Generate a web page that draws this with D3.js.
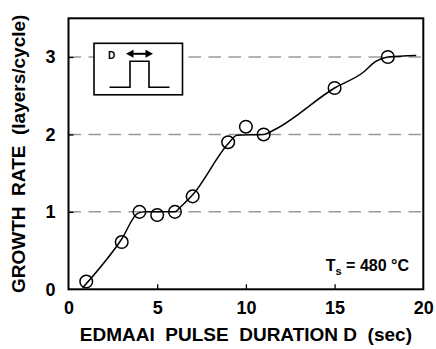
<!DOCTYPE html>
<html>
<head>
<meta charset="utf-8">
<script src="https://cdn.jsdelivr.net/npm/d3@7"></script>
<style>
  html, body { margin: 0; padding: 0; background: #fff; }
  svg { display: block; font-family: "Liberation Sans", Arial, sans-serif; }
  text { white-space: pre; }
</style>
</head>
<body>
<svg id="chart" width="436" height="349"></svg>
<script>
// ---- data ----
const pulseDuration = [1, 3, 4, 5, 6, 7, 9, 10, 11, 15, 18];
const growthRate    = [0.1, 0.61, 1.0, 0.96, 1.0, 1.2, 1.9, 2.1, 2.0, 2.6, 3.0];
const fitX = [0.8, 3.0, 3.9, 4.3, 6.0, 6.3, 7.0, 9.0, 9.5, 11.0, 11.6, 15.0, 16.6, 17.3, 18.0, 19.6];
const fitY = [0.02, 0.65, 0.98, 1.0, 1.0, 1.06, 1.22, 1.88, 1.99, 2.0, 2.06, 2.6, 2.8, 2.94, 3.0, 3.02];
const xTicks = [0, 5, 10, 15, 20];
const yTicks = [0, 1, 2, 3];
const gridLevels = [1, 2, 3];
const xTitle = "EDMAAI  PULSE  DURATION D  (sec)";
const yTitle = "GROWTH  RATE  (layers/cycle)";

// ---- layout ----
const svg = d3.select("#chart");
const L = 68.5, R = 423.3, T = 18.3, B = 289.3;
const x = d3.scaleLinear().domain([0, 20]).range([L, R]);
const y = d3.scaleLinear().domain([0, 3.5]).range([B, T]);

// grid lines (dashed)
svg.append("g").selectAll("line").data(gridLevels).join("line")
  .attr("x1", L).attr("x2", R)
  .attr("y1", d => y(d)).attr("y2", d => y(d))
  .attr("stroke", "#9a9a9a").attr("stroke-width", 1.5)
  .attr("stroke-dasharray", "12.5,7.5");

// axes (ticks inward)
const xAxis = d3.axisBottom(x).tickValues(xTicks).tickSize(-5).tickPadding(12).tickFormat(d3.format("d"));
const yAxis = d3.axisLeft(y).tickValues(yTicks).tickSize(-5).tickPadding(13).tickFormat(d3.format("d"));
const gx = svg.append("g").attr("transform", `translate(0,${B})`).call(xAxis);
const gy = svg.append("g").attr("transform", `translate(${L},0)`).call(yAxis);
[gx, gy].forEach(g => {
  g.select(".domain").remove();
  g.selectAll(".tick line").attr("stroke", "#000").attr("stroke-width", 1.3);
  g.selectAll(".tick text").attr("fill", "#000")
    .style("font-size", "18px").style("font-weight", "bold")
    .style("font-family", "'Liberation Sans', Arial, sans-serif");
});
gx.selectAll(".tick").filter(d => d === 0 || d === 20).select("line").remove();
gy.selectAll(".tick").filter(d => d === 0).select("line").remove();

// frame
svg.append("rect").attr("x", L).attr("y", T).attr("width", R - L).attr("height", B - T)
  .attr("fill", "none").attr("stroke", "#000").attr("stroke-width", 2);

// fitted curve
const fit = fitX.map((v, i) => [v, fitY[i]]);
svg.append("path").datum(fit)
  .attr("d", d3.line().x(d => x(d[0])).y(d => y(d[1])).curve(d3.curveMonotoneX))
  .attr("fill", "none").attr("stroke", "#000").attr("stroke-width", 1.5);

// data points
svg.append("g").selectAll("circle").data(pulseDuration.map((v, i) => [v, growthRate[i]])).join("circle")
  .attr("cx", d => x(d[0])).attr("cy", d => y(d[1])).attr("r", 6.3)
  .attr("fill", "none").attr("stroke", "#000").attr("stroke-width", 1.5);

// inset (pulse schematic)
const inset = svg.append("g").attr("transform", `translate(${L + 25.5},${T + 25})`);
inset.append("rect").attr("x", 0).attr("y", 0).attr("width", 88.5).attr("height", 51.5)
  .attr("fill", "#fff").attr("stroke", "#000").attr("stroke-width", 1.6);
inset.append("path")
  .attr("d", "M15.5,44 H36 V18 H55 V44 H75.5")
  .attr("fill", "none").attr("stroke", "#000").attr("stroke-width", 1.6);
inset.append("text").attr("x", 14).attr("y", 15.5).text("D")
  .style("font-size", "10px").style("font-weight", "bold");
inset.append("line").attr("x1", 38).attr("x2", 53).attr("y1", 10.5).attr("y2", 10.5)
  .attr("stroke", "#000").attr("stroke-width", 2);
inset.append("path").attr("d", "M32,10.5 L39.5,6.5 L39.5,14.5 Z").attr("fill", "#000");
inset.append("path").attr("d", "M59,10.5 L51.5,6.5 L51.5,14.5 Z").attr("fill", "#000");

// annotation
const ann = svg.append("text").attr("x", 409).attr("y", 271).attr("text-anchor", "end")
  .style("font-size", "16px").style("font-weight", "bold");
ann.append("tspan").text("T");
ann.append("tspan").attr("dy", 4).style("font-size", "11px").text("s");
ann.append("tspan").attr("dy", -4).text(" = 480 °C");

// axis titles
svg.append("text").attr("x", (L + R) / 2).attr("y", 341).attr("text-anchor", "middle")
  .style("font-size", "19px").style("font-weight", "bold").text(xTitle);
svg.append("text").attr("transform", `translate(25,${(T + B) / 2}) rotate(-90)`)
  .attr("text-anchor", "middle")
  .style("font-size", "19px").style("font-weight", "bold").text(yTitle);
</script>
</body>
</html>
